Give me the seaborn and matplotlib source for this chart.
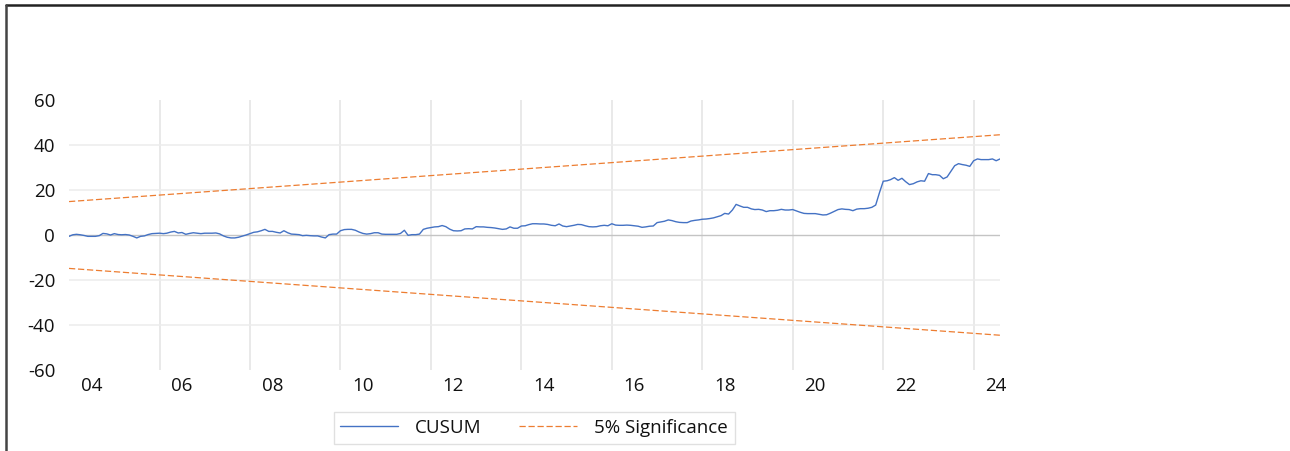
import numpy as np
import pandas as pd
import matplotlib.pyplot as plt
from matplotlib.lines import Line2D
import seaborn as sns

# CUSUM values, monthly from 2004M1
cusum = [
    -0.6, 0.1, 0.3, 0.1, -0.2, -0.6, -0.6, -0.6, -0.3, 0.7, 0.5, 0.0,
    0.6, 0.2, 0.1, 0.2, 0.0, -0.6, -1.3, -0.6, -0.4, 0.2, 0.6, 0.7,
    0.8, 0.6, 0.8, 1.3, 1.6, 0.9, 1.1, 0.3, 0.7, 1.0, 0.8, 0.6,
    0.8, 0.8, 0.8, 0.9, 0.5, -0.4, -1.0, -1.3, -1.3, -1.0, -0.5, 0.0,
    0.6, 1.2, 1.4, 1.9, 2.5, 1.6, 1.6, 1.2, 0.9, 1.9, 1.0, 0.4,
    0.3, 0.15, -0.3, -0.15, -0.3, -0.4, -0.4, -0.9, -1.3, 0.15, 0.4, 0.4,
    1.9, 2.4, 2.5, 2.5, 2.1, 1.3, 0.7, 0.4, 0.6, 1.0, 1.0, 0.4,
    0.3, 0.3, 0.3, 0.3, 0.7, 2.1, -0.15, 0.15, 0.15, 0.4, 2.5, 3.0,
    3.3, 3.6, 3.7, 4.2, 3.7, 2.6, 1.9, 1.8, 1.9, 2.7, 2.8, 2.7,
    3.7, 3.6, 3.6, 3.4, 3.3, 3.1, 2.8, 2.5, 2.7, 3.6, 3.0, 3.0,
    4.0, 4.1, 4.6, 5.0, 5.0, 4.9, 4.9, 4.7, 4.3, 4.1, 4.9, 4.0,
    3.7, 4.0, 4.3, 4.7, 4.6, 4.1, 3.7, 3.6, 3.7, 4.1, 4.3, 4.1,
    5.0, 4.4, 4.3, 4.3, 4.4, 4.3, 4.1, 3.9, 3.4, 3.6, 3.9, 4.0,
    5.5, 5.8, 6.1, 6.7, 6.4, 5.9, 5.6, 5.5, 5.5, 6.2, 6.5, 6.7,
    7.0, 7.1, 7.3, 7.6, 8.1, 8.6, 9.6, 9.3, 11.1, 13.6, 12.9, 12.3,
    12.3, 11.6, 11.3, 11.4, 11.1, 10.4, 10.8, 10.8, 11.0, 11.4, 11.1, 11.1,
    11.3, 10.7, 10.1, 9.6, 9.5, 9.5, 9.5, 9.2, 8.9, 9.0, 9.7, 10.5,
    11.3, 11.6, 11.4, 11.3, 10.8, 11.5, 11.7, 11.7, 11.9, 12.3, 13.3, 18.7,
    23.9, 24.1, 24.6, 25.5, 24.3, 25.2, 23.7, 22.4, 22.8, 23.6, 24.1, 23.9,
    27.3, 26.8, 26.8, 26.5, 25.0, 25.8, 28.3, 30.8, 31.7, 31.3, 31.0, 30.5,
    33.0, 33.8, 33.5, 33.5, 33.5, 33.8, 33.0, 33.8,
]
dates = pd.date_range('2004-01-01', periods=len(cusum), freq='MS')

# 5% significance bounds at first and last observation (straight lines)
upper_bound = [14.85, 44.55]
lower_bound = [-14.85, -44.55]
bound_dates = [dates[0], dates[-1]]

y_ticks = [-60, -40, -20, 0, 20, 40, 60]
grid_years = list(range(2006, 2025, 2))
label_years = list(range(2004, 2025, 2))

sns.set_style("white")
plt.rcParams['font.family'] = ['Open Sans', 'DejaVu Sans']

fig = plt.figure(figsize=(12.9, 4.51), dpi=100)
ax = fig.add_axes([0.0535, 0.1796, 0.7217, 0.5987])

blue = '#4472C4'
orange = '#ED7D31'
fs = 13.5

sns.lineplot(x=dates, y=cusum, ax=ax, color=blue, linewidth=1.0)
sns.lineplot(x=bound_dates, y=upper_bound, ax=ax, color=orange, linewidth=0.9)
sns.lineplot(x=bound_dates, y=lower_bound, ax=ax, color=orange, linewidth=0.9)
for ln in ax.get_lines()[1:]:
    ln.set_dashes((5, 2.2))

ax.set_xlim(dates[0], dates[-1])
ax.set_ylim(-60, 60)
ax.set_xlabel('')
ax.set_ylabel('')

# x axis: gridlines at year starts, labels centred on the year
ax.set_xticks([pd.Timestamp(f'{y}-01-01') for y in grid_years])
ax.set_xticklabels([''] * len(grid_years))
ax.set_xticks([pd.Timestamp(f'{y}-07-01') for y in label_years], minor=True)
ax.set_xticklabels([f'{y % 100:02d}' for y in label_years], minor=True)
ax.tick_params(axis='x', which='both', length=0, pad=5, labelsize=fs, labelcolor='#111111')

ax.set_yticks(y_ticks)
ax.set_yticklabels([str(v) for v in y_ticks])
ax.tick_params(axis='y', length=0, pad=10, labelsize=fs, labelcolor='#111111')

ax.grid(True, axis='x', which='major', color='#e9e9e9', linewidth=1.4)
ax.grid(True, axis='y', color='#ececec', linewidth=1.1)
for val, gl in zip(y_ticks, ax.yaxis.get_gridlines()):
    if val in (-60, 60):
        gl.set_visible(False)
    elif val == 0:
        gl.set_color('#c4c4c4')
        gl.set_linewidth(1.0)
ax.set_axisbelow(True)

for s in ax.spines.values():
    s.set_visible(False)

handles = [
    Line2D([], [], color=blue, linewidth=1.0),
    Line2D([], [], color=orange, linewidth=0.9, dashes=(5, 2.2)),
]
leg = fig.legend(handles, ['CUSUM', '5% Significance'], loc='center',
                 bbox_to_anchor=(0.414, 0.051), ncol=2, frameon=True,
                 fancybox=False, edgecolor='#d9d9d9', fontsize=fs,
                 handlelength=3.1, columnspacing=2.0, handletextpad=0.9,
                 borderpad=0.35, borderaxespad=0)
leg.get_frame().set_linewidth(1.0)
for t in leg.get_texts():
    t.set_color('#111111')

# frame lines of the screenshot
fig.add_artist(Line2D([0.0047, 1.0], [0.990, 0.990], color='#222222', linewidth=1.8, transform=fig.transFigure))
fig.add_artist(Line2D([0.0050, 0.0050], [0.0, 0.990], color='#444444', linewidth=1.8, transform=fig.transFigure))

fig.savefig('out.png', dpi=100)
